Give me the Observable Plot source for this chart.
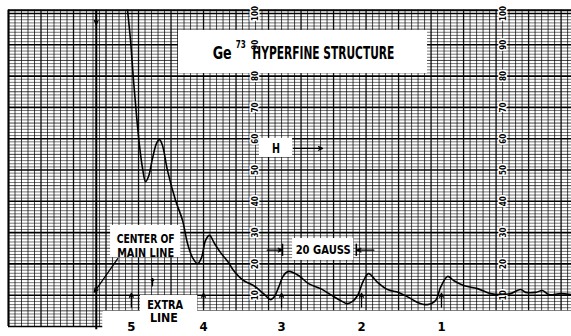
<!DOCTYPE html>
<html><head><meta charset="utf-8">
<script src="https://cdn.jsdelivr.net/npm/d3@7"></script>
<script src="https://cdn.jsdelivr.net/npm/@observablehq/plot@0.6"></script>
<style>
body{margin:0;background:#fff}
#chart svg text{font-family:"DejaVu Sans Condensed","DejaVu Sans",sans-serif}
</style>
</head><body><div id="chart"></div>
<script>
// Recorder trace: x in chart divisions, y in chart units (0-100)
const traceX = [18.31,18.77,19.23,19.69,20.15,20.62,21.08,21.54,22.15,22.77,23.23,23.69,24.46,25.69,26.77,27.54,28.31,29.08,29.69,30.31,30.92,31.69,32.62,33.85,34.62,36.15,37.69,39.23,40.31,40.92,41.54,42.31,43.08,44.62,46.15,48.0,50.0,51.08,52.15,52.92,53.69,54.62,55.38,56.77,58.31,60.0,61.54,62.92,64.46,65.69,66.46,67.54,68.46,70.0,72.15,74.15,75.69,77.23,78.77,79.54,81.08,82.15,83.08,84.92,86.62];
const traceY = [101.0,91.4,78.6,67.4,57.8,50.5,46.3,47.9,53.7,58.5,59.7,57.8,49.8,40.3,33.9,26.5,22.0,20.1,22.0,27.5,29.1,26.5,23.6,20.4,17.9,14.7,13.1,10.5,8.6,9.6,12.5,16.3,17.6,16.3,13.7,12.1,9.6,8.3,7.3,8.0,9.9,14.7,16.9,14.1,11.8,10.9,9.3,7.7,7.0,8.3,12.5,16.0,14.7,13.1,12.1,10.5,10.2,10.5,11.8,10.9,10.9,11.5,10.2,10.5,10.2];

// Hyperfine line markers
const lineNames = ["5","4","3","2","1"];
const linePositions = [18.9,30.0,42.0,54.3,66.6];
const extraLinePosition = 22.15;
const centerLinePosition = 13.5;

// Chart-paper scale labels
const yTickValues = [10,20,30,40,50,60,70,80,90,100];
const yTickColumns = [38.0,76.15];

const xMax = 86.6, stripEdge = 14.5, gridBottom = 5, gridTop = 101;

const trace = traceX.map((x,i)=>({x, y: traceY[i]}));
const hLines = d3.range(0, gridTop+1).map(v => ({v, x2: v < gridBottom ? stripEdge : xMax}));
const vLines = d3.range(0, Math.floor(xMax)+1).map(u => ({u, y1: u <= stripEdge ? 0 : gridBottom}));
const ticks = yTickColumns.flatMap(c => yTickValues.map(v => ({c, v})));
const markers = linePositions.map((p,i)=>({p, name: lineNames[i]}));

const boxes = [
  {x1:26.15,x2:64.46,y1:80.8,y2:94.6},
  {x1:38.6,x2:43.7,y1:54.0,y2:60.1},
  {x1:43.7,x2:53.1,y1:21.1,y2:28.1},
  {x1:15.7,x2:26.5,y1:22.0,y2:32.3},
  {x1:20.3,x2:29.1,y1:-4,y2:9.9},
  {x1:stripEdge+0.1,x2:xMax,y1:-4,y2:gridBottom-0.2}
];
// title pieces (left-anchored): text, position, font size, fitted width (px)
const titleParts = [
  {x:31.4,y:87.1,t:"Ge",s:17,w:19},
  {x:34.95,y:90.2,t:"73",s:11,w:10},
  {x:37.5,y:87.1,t:"HYPERFINE STRUCTURE",s:17,w:142}
];
// annotation labels (centred)
const labels = [
  {x:41.15,y:56.9,t:"H",s:14,w:8},
  {x:48.4,y:24.6,t:"20 GAUSS",s:13,w:55},
  {x:21.1,y:27.9,t:"CENTER OF",s:13,w:58},
  {x:21.1,y:23.6,t:"MAIN LINE",s:13,w:57},
  {x:24.1,y:6.7,t:"EXTRA",s:12,w:36},
  {x:23.9,y:2.6,t:"LINE",s:12,w:28}
];
const arrows = [
  {x1:43.85,y1:56.9,x2:48.3,y2:56.9},
  {x1:39.8,y1:24.4,x2:42.1,y2:24.4},
  {x1:56.2,y1:24.4,x2:53.6,y2:24.4},
  {x1:16.8,y1:21.7,x2:13.2,y2:11.0},
  {x1:centerLinePosition,y1:101,x2:centerLinePosition,y2:96.5},
  {x1:extraLinePosition,y1:13,x2:extraLinePosition,y2:15.4},
  ...linePositions.map(p=>({x1:p,y1:6.2,x2:p,y2:10.6}))
];

const plot = Plot.plot({
  width: 571, height: 336,
  marginLeft: 8, marginRight: 0, marginTop: 13, marginBottom: 10,
  x: {domain:[0,xMax], axis:null},
  y: {domain:[0,100], axis:null},
  style: {background:"white", overflow:"visible"},
  marks: [
    Plot.ruleY(hLines, {y:"v", x1:0, x2:"x2", stroke:"#000",
      strokeWidth: d => d.v % 10 === 0 ? 1.6 : 0.9,
      strokeOpacity: d => d.v % 10 === 0 ? 1 : (d.v % 5 === 0 ? 0.85 : 0.62)}),
    Plot.ruleX(vLines, {x:"u", y1:"y1", y2:gridTop, stroke:"#000",
      strokeWidth: d => d.u % 5 === 0 ? 1.3 : 0.9,
      strokeOpacity: d => d.u % 5 === 0 ? 0.95 : 0.8}),
    Plot.ruleY([gridTop], {x1:0, x2:xMax, stroke:"#000", strokeWidth:2}),
    Plot.ruleX([0], {y1:0, y2:gridTop, stroke:"#000", strokeWidth:2}),
    Plot.rect(boxes, {x1:"x1", x2:"x2", y1:"y1", y2:"y2", fill:"white"}),
    Plot.ruleX([centerLinePosition], {y1:-1, y2:gridTop, stroke:"#000", strokeWidth:2}),
    Plot.ruleX([42.15, 53.5], {y1:22.4, y2:26.3, stroke:"#000", strokeWidth:1.5}),
    Plot.text(ticks, {x:"c", y:"v", text: d => String(d.v), rotate:-90, fontSize:8, fontWeight:"bold",
      fill:"#000", stroke:"white", strokeWidth:3}),
    Plot.line(trace, {x:"x", y:"y", stroke:"#000", strokeWidth:1.6, curve:"catmull-rom"}),
    Plot.text(titleParts, {x:"x", y:"y", text:"t", fontSize: d=>d.s, fontWeight:"bold", fill:"#000", textAnchor:"start"}),
    Plot.text(labels, {x:"x", y:"y", text:"t", fontSize: d=>d.s, fontWeight:"bold", fill:"#000"}),
    Plot.text(markers, {x:"p", y:0, text:"name", fontSize:13, fontWeight:"bold", fill:"#000"}),
    Plot.arrow(arrows, {x1:"x1", y1:"y1", x2:"x2", y2:"y2", stroke:"#000", strokeWidth:1.3, headLength:5, headAngle:50})
  ]
});
document.getElementById("chart").append(plot);

// fit condensed lettering widths
const widthByText = new Map([...titleParts, ...labels].map(d => [d.t, d.w]));
d3.select(plot).selectAll("text").each(function(){
  const w = widthByText.get(this.textContent);
  if (w) { this.setAttribute("textLength", w); this.setAttribute("lengthAdjust", "spacingAndGlyphs"); }
});
</script>
</body></html>
